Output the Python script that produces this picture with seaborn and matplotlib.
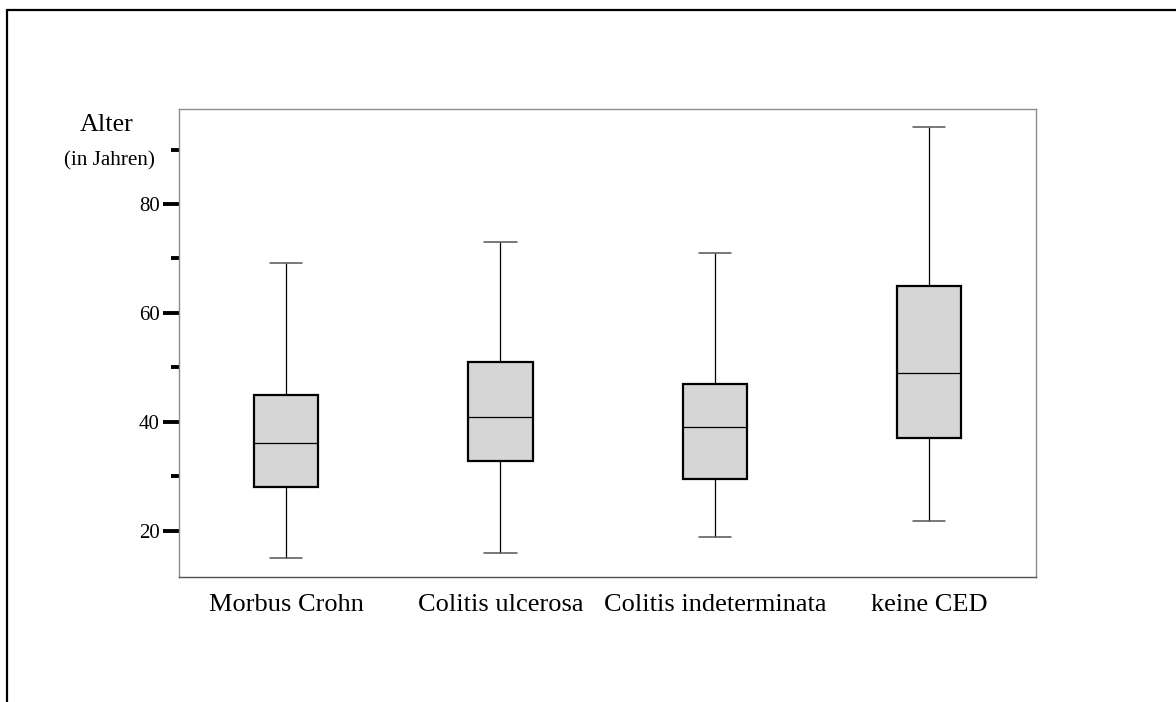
import matplotlib
matplotlib.use("Agg")
import matplotlib.pyplot as plt
from matplotlib.lines import Line2D
from matplotlib.ticker import FixedLocator
import numpy as np
import pandas as pd
import seaborn as sns

# Data: five-number summaries (min, Q1, median, Q3, max)
categories = ["Morbus Crohn", "Colitis ulcerosa", "Colitis indeterminata", "keine CED"]
morbus_crohn = [15.0, 28.0, 36.1, 45.0, 69.1]
colitis_ulcerosa = [15.9, 32.8, 40.8, 50.9, 73.0]
colitis_indeterminata = [18.8, 29.5, 39.0, 47.0, 71.1]
keine_ced = [21.8, 37.0, 48.9, 65.0, 94.1]
major_ticks = [20, 40, 60, 80]
minor_ticks = [30, 50, 70, 90]

groups = [morbus_crohn, colitis_ulcerosa, colitis_indeterminata, keine_ced]
df = pd.DataFrame({
    "Gruppe": np.repeat(categories, [len(g) for g in groups]),
    "Alter": np.concatenate(groups),
})

sns.set_theme(style="ticks")
plt.rcParams["font.family"] = ["Liberation Serif", "DejaVu Serif"]

fig = plt.figure(figsize=(11.76, 7.02), dpi=100)
ax = fig.add_axes([0.1522, 0.1785, 0.8812 - 0.1522, 0.8443 - 0.1785])

sns.boxplot(
    data=df, x="Gruppe", y="Alter", order=categories, ax=ax,
    width=0.30, whis=(0, 100), color="#d6d6d6", fill=True,
    boxprops=dict(edgecolor="black", linewidth=1.6, facecolor="#d6d6d6"),
    medianprops=dict(color="black", linewidth=0.9),
    whiskerprops=dict(color="black", linewidth=0.9),
    capprops=dict(color="#555555", linewidth=1.1),
    showfliers=False,
)

ax.set_xlim(-0.5, 3.5)
ax.set_ylim(11.56, 97.4)
ax.set_xlabel("")
ax.set_ylabel("")

ax.yaxis.set_major_locator(FixedLocator(major_ticks))
ax.yaxis.set_minor_locator(FixedLocator(minor_ticks))
ax.set_yticklabels([str(t) for t in major_ticks])
ax.tick_params(axis="y", which="major", length=11.5, width=2.8, color="black",
               pad=2.5, labelsize=15.0, labelcolor="black", direction="out")
ax.tick_params(axis="y", which="minor", length=5.8, width=2.8, color="black",
               direction="out")
ax.tick_params(axis="x", which="both", length=0, pad=12.5, labelsize=19.0,
               labelcolor="black")

for side in ["left", "top", "right"]:
    ax.spines[side].set_color("#8c8c8c")
    ax.spines[side].set_linewidth(1.0)
ax.spines["bottom"].set_color("#505050")
ax.spines["bottom"].set_linewidth(1.0)

# Axis title as two lines of text
fig.text(106.3 / 1176, 1 - 125 / 702, "Alter", ha="center", va="center",
         fontsize=18.8, color="black")
fig.text(109.7 / 1176, 1 - 161 / 702, "(in Jahren)", ha="center", va="center",
         fontsize=15.2, color="black")

# Partial figure frame (top and left edges)
fx = 7 / 1176
fy = 1 - 10 / 702
fig.add_artist(Line2D([fx, 1.0], [fy, fy], transform=fig.transFigure,
                      color="black", linewidth=1.6))
fig.add_artist(Line2D([fx, fx], [0.0, fy], transform=fig.transFigure,
                      color="black", linewidth=1.6))

fig.savefig("out.png", dpi=100, facecolor="white")
